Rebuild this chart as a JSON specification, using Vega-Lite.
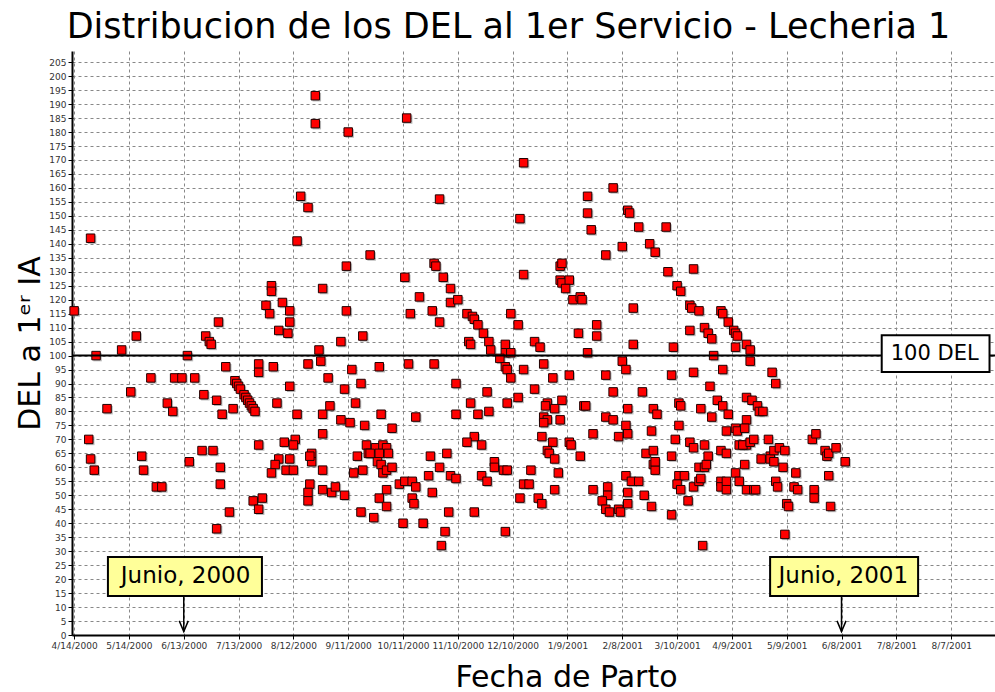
{
"$schema": "https://vega.github.io/schema/vega-lite/v6.json",
"width": 923, "height": 584,
"autosize": {"type": "none"},
"padding": {"left": 72, "top": 51, "right": 0, "bottom": 57},
"background": "white",
"title": {"text": "Distribucion de los DEL al 1er Servicio - Lecheria 1", "font": "DejaVu Sans", "fontSize": 35, "fontWeight": "normal", "color": "#000", "anchor": "middle", "frame": "group", "dx": -25, "baseline": "alphabetic", "offset": -22},
"config": {
  "view": {"stroke": null},
  "axis": {"labelFont": "DejaVu Sans", "labelFontSize": 9, "labelColor": "#333", "titleFont": "DejaVu Sans", "titleFontWeight": "normal", "titleColor": "#000", "titleFontSize": 30, "gridColor": "#888", "gridDash": [3, 3], "gridWidth": 1, "gridOpacity": 1, "domainColor": "#000", "domainWidth": 2, "tickColor": "#000", "tickSize": 4, "labelPadding": 2, "labelOverlap": false},
  "axisY": {"tickCount": 42}
},
"layer": [
 {"data": {"values": [
{"fecha":"2000-04-23","del":142},{"fecha":"2000-04-14","del":116},{"fecha":"2000-05-18","del":107},{"fecha":"2000-05-10","del":102},{"fecha":"2000-04-26","del":100},{"fecha":"2000-06-15","del":100},{"fecha":"2000-05-26","del":92},{"fecha":"2000-06-08","del":92},{"fecha":"2000-06-12","del":92},{"fecha":"2000-06-19","del":92},{"fecha":"2000-05-15","del":87},{"fecha":"2000-06-24","del":86},{"fecha":"2000-06-04","del":83},{"fecha":"2000-06-07","del":80},{"fecha":"2000-05-02","del":81},{"fecha":"2000-04-22","del":70},{"fecha":"2000-04-23","del":63},{"fecha":"2000-04-25","del":59},{"fecha":"2000-05-21","del":64},{"fecha":"2000-05-22","del":59},{"fecha":"2000-05-29","del":53},{"fecha":"2000-06-01","del":53},{"fecha":"2000-06-23","del":66},{"fecha":"2000-06-16","del":62},
{"fecha":"2000-06-25","del":107},{"fecha":"2000-06-27","del":105},{"fecha":"2000-06-28","del":104},{"fecha":"2000-07-02","del":112},{"fecha":"2000-07-01","del":84},{"fecha":"2000-07-04","del":79},{"fecha":"2000-07-06","del":96},{"fecha":"2000-07-10","del":81},{"fecha":"2000-07-11","del":91},{"fecha":"2000-07-12","del":90},{"fecha":"2000-07-13","del":89},{"fecha":"2000-07-14","del":88},{"fecha":"2000-07-16","del":86},{"fecha":"2000-07-17","del":85},{"fecha":"2000-07-18","del":84},{"fecha":"2000-07-19","del":83},{"fecha":"2000-07-20","del":82},{"fecha":"2000-07-21","del":81},{"fecha":"2000-07-22","del":80},{"fecha":"2000-07-24","del":97},{"fecha":"2000-07-24","del":94},{"fecha":"2000-07-24","del":68},{"fecha":"2000-06-29","del":66},{"fecha":"2000-07-03","del":60},{"fecha":"2000-07-03","del":54},{"fecha":"2000-07-01","del":38},{"fecha":"2000-07-08","del":44},{"fecha":"2000-07-21","del":48},{"fecha":"2000-07-24","del":45},{"fecha":"2000-07-26","del":49},
{"fecha":"2000-08-01","del":96},{"fecha":"2000-08-03","del":83},{"fecha":"2000-08-10","del":89},{"fecha":"2000-08-14","del":79},{"fecha":"2000-08-07","del":69},{"fecha":"2000-08-13","del":70},{"fecha":"2000-08-12","del":68},{"fecha":"2000-08-04","del":63},{"fecha":"2000-08-02","del":61},{"fecha":"2000-07-31","del":58},{"fecha":"2000-08-10","del":63},{"fecha":"2000-08-08","del":59},{"fecha":"2000-08-12","del":59},{"fecha":"2000-08-20","del":97},{"fecha":"2000-08-26","del":102},{"fecha":"2000-08-27","del":98},{"fecha":"2000-08-28","del":79},{"fecha":"2000-08-28","del":72},{"fecha":"2000-08-31","del":92},{"fecha":"2000-09-01","del":82},{"fecha":"2000-08-22","del":65},{"fecha":"2000-08-22","del":62},{"fecha":"2000-08-21","del":64},{"fecha":"2000-08-21","del":54},{"fecha":"2000-08-20","del":51},{"fecha":"2000-08-20","del":48},{"fecha":"2000-08-28","del":59},{"fecha":"2000-08-28","del":52},{"fecha":"2000-09-02","del":51},{"fecha":"2000-09-04","del":53},{"fecha":"2000-09-07","del":77},{"fecha":"2000-09-07","del":105},{"fecha":"2000-09-09","del":88},{"fecha":"2000-09-09","del":50},{"fecha":"2000-09-12","del":76},{"fecha":"2000-09-13","del":95},{"fecha":"2000-09-18","del":90},{"fecha":"2000-09-15","del":83},{"fecha":"2000-09-20","del":75},{"fecha":"2000-09-21","del":68},{"fecha":"2000-09-16","del":64},{"fecha":"2000-09-14","del":58},{"fecha":"2000-09-19","del":59},{"fecha":"2000-09-18","del":44},{"fecha":"2000-09-22","del":65},
{"fecha":"2000-08-24","del":193},{"fecha":"2000-08-24","del":183},{"fecha":"2000-09-11","del":180},{"fecha":"2000-08-16","del":157},{"fecha":"2000-08-20","del":153},{"fecha":"2000-08-14","del":141},{"fecha":"2000-09-23","del":136},{"fecha":"2000-09-10","del":132},{"fecha":"2000-08-28","del":124},{"fecha":"2000-07-31","del":125},{"fecha":"2000-07-31","del":123},{"fecha":"2000-08-06","del":119},{"fecha":"2000-07-28","del":118},{"fecha":"2000-07-30","del":115},{"fecha":"2000-08-10","del":116},{"fecha":"2000-08-10","del":112},{"fecha":"2000-08-04","del":109},{"fecha":"2000-08-09","del":108},{"fecha":"2000-09-10","del":116},{"fecha":"2000-09-19","del":107},
{"fecha":"2000-10-13","del":185},{"fecha":"2000-10-31","del":156},{"fecha":"2000-10-12","del":128},{"fecha":"2000-10-28","del":133},{"fecha":"2000-10-29","del":132},{"fecha":"2000-11-02","del":128},{"fecha":"2000-11-06","del":124},{"fecha":"2000-10-20","del":121},{"fecha":"2000-11-06","del":119},{"fecha":"2000-11-10","del":120},{"fecha":"2000-10-15","del":115},{"fecha":"2000-10-27","del":116},{"fecha":"2000-10-31","del":112},{"fecha":"2000-11-15","del":115},{"fecha":"2000-11-18","del":114},{"fecha":"2000-11-19","del":113},{"fecha":"2000-11-16","del":105},{"fecha":"2000-11-17","del":104},{"fecha":"2000-09-28","del":96},{"fecha":"2000-10-14","del":97},{"fecha":"2000-10-28","del":97},{"fecha":"2000-11-09","del":90},{"fecha":"2000-11-17","del":83},{"fecha":"2000-09-29","del":79},{"fecha":"2000-10-18","del":78},{"fecha":"2000-11-09","del":79},{"fecha":"2000-11-19","del":71},{"fecha":"2000-10-05","del":74},{"fecha":"2000-11-15","del":69},{"fecha":"2000-09-26","del":67},{"fecha":"2000-09-30","del":68},{"fecha":"2000-10-02","del":67},{"fecha":"2000-09-23","del":65},{"fecha":"2000-09-28","del":65},{"fecha":"2000-10-03","del":65},{"fecha":"2000-10-26","del":64},{"fecha":"2000-11-04","del":65},{"fecha":"2000-09-27","del":62},{"fecha":"2000-09-29","del":61},{"fecha":"2000-09-30","del":58},{"fecha":"2000-10-02","del":59},{"fecha":"2000-10-05","del":60},{"fecha":"2000-10-31","del":60},{"fecha":"2000-10-25","del":57},{"fecha":"2000-11-06","del":57},{"fecha":"2000-11-09","del":56},{"fecha":"2000-10-09","del":54},{"fecha":"2000-10-12","del":55},{"fecha":"2000-10-16","del":55},{"fecha":"2000-10-18","del":53},{"fecha":"2000-10-02","del":52},{"fecha":"2000-09-28","del":49},{"fecha":"2000-10-16","del":49},{"fecha":"2000-10-17","del":47},{"fecha":"2000-10-27","del":51},{"fecha":"2000-10-02","del":46},{"fecha":"2000-09-25","del":42},{"fecha":"2000-10-11","del":40},{"fecha":"2000-10-22","del":40},{"fecha":"2000-11-05","del":44},{"fecha":"2000-11-03","del":37},{"fecha":"2000-11-01","del":32},{"fecha":"2000-11-19","del":44},
{"fecha":"2000-12-16","del":169},{"fecha":"2000-12-14","del":149},{"fecha":"2001-01-20","del":157},{"fecha":"2001-01-20","del":151},{"fecha":"2001-01-22","del":145},{"fecha":"2001-01-30","del":136},{"fecha":"2000-12-16","del":129},{"fecha":"2001-01-05","del":132},{"fecha":"2001-01-06","del":133},{"fecha":"2001-01-05","del":127},{"fecha":"2001-01-06","del":126},{"fecha":"2001-01-10","del":127},{"fecha":"2001-01-08","del":124},{"fecha":"2001-01-12","del":120},{"fecha":"2001-01-16","del":121},{"fecha":"2001-01-17","del":120},{"fecha":"2000-11-21","del":111},{"fecha":"2000-12-09","del":115},{"fecha":"2000-12-13","del":111},{"fecha":"2000-11-24","del":108},{"fecha":"2000-11-27","del":105},{"fecha":"2000-11-28","del":102},{"fecha":"2000-12-06","del":104},{"fecha":"2000-12-06","del":101},{"fecha":"2000-12-09","del":101},{"fecha":"2000-12-22","del":105},{"fecha":"2000-12-25","del":103},{"fecha":"2001-01-15","del":108},{"fecha":"2001-01-25","del":111},{"fecha":"2001-01-25","del":107},{"fecha":"2001-01-20","del":101},{"fecha":"2000-12-03","del":99},{"fecha":"2000-12-06","del":96},{"fecha":"2000-12-07","del":95},{"fecha":"2000-12-09","del":92},{"fecha":"2000-12-16","del":95},{"fecha":"2000-12-27","del":97},{"fecha":"2001-01-01","del":92},{"fecha":"2001-01-10","del":93},{"fecha":"2001-01-30","del":93},{"fecha":"2000-11-26","del":87},{"fecha":"2000-12-22","del":88},{"fecha":"2000-12-13","del":85},{"fecha":"2000-12-07","del":83},{"fecha":"2000-12-29","del":83},{"fecha":"2000-12-28","del":82},{"fecha":"2001-01-06","del":84},{"fecha":"2001-01-18","del":82},{"fecha":"2001-01-19","del":82},{"fecha":"2000-11-21","del":79},{"fecha":"2000-11-27","del":80},{"fecha":"2001-01-02","del":81},{"fecha":"2000-12-27","del":78},{"fecha":"2000-12-29","del":77},{"fecha":"2000-12-27","del":76},{"fecha":"2001-01-05","del":77},{"fecha":"2001-01-30","del":78},{"fecha":"2001-01-23","del":72},{"fecha":"2000-11-23","del":68},{"fecha":"2000-12-26","del":71},{"fecha":"2001-01-01","del":69},{"fecha":"2001-01-10","del":69},{"fecha":"2001-01-11","del":68},{"fecha":"2000-12-29","del":66},{"fecha":"2000-12-30","del":65},{"fecha":"2001-01-02","del":63},{"fecha":"2001-01-16","del":64},{"fecha":"2000-11-30","del":62},{"fecha":"2000-11-30","del":60},{"fecha":"2000-12-05","del":59},{"fecha":"2000-12-07","del":59},{"fecha":"2000-12-20","del":59},{"fecha":"2001-01-04","del":58},{"fecha":"2000-11-23","del":57},{"fecha":"2000-11-26","del":55},{"fecha":"2000-12-16","del":54},{"fecha":"2000-12-19","del":54},{"fecha":"2001-01-02","del":52},{"fecha":"2001-01-23","del":52},{"fecha":"2000-12-14","del":49},{"fecha":"2000-12-24","del":49},{"fecha":"2000-12-26","del":47},{"fecha":"2001-01-31","del":53},{"fecha":"2001-01-31","del":50},{"fecha":"2001-01-28","del":48},{"fecha":"2001-01-30","del":45},{"fecha":"2001-02-01","del":44},{"fecha":"2000-12-06","del":37},
{"fecha":"2001-02-03","del":160},{"fecha":"2001-02-11","del":152},{"fecha":"2001-02-12","del":151},{"fecha":"2001-02-17","del":146},{"fecha":"2001-03-04","del":146},{"fecha":"2001-02-08","del":139},{"fecha":"2001-02-23","del":140},{"fecha":"2001-02-26","del":137},{"fecha":"2001-03-05","del":130},{"fecha":"2001-03-19","del":131},{"fecha":"2001-03-10","del":125},{"fecha":"2001-03-12","del":123},{"fecha":"2001-03-17","del":118},{"fecha":"2001-03-18","del":117},{"fecha":"2001-03-22","del":116},{"fecha":"2001-04-03","del":116},{"fecha":"2001-04-04","del":115},{"fecha":"2001-04-07","del":112},{"fecha":"2001-02-14","del":117},{"fecha":"2001-03-25","del":110},{"fecha":"2001-03-27","del":108},{"fecha":"2001-03-29","del":106},{"fecha":"2001-04-10","del":109},{"fecha":"2001-04-11","del":108},{"fecha":"2001-04-12","del":107},{"fecha":"2001-03-17","del":109},{"fecha":"2001-02-14","del":104},{"fecha":"2001-03-08","del":103},{"fecha":"2001-04-11","del":103},{"fecha":"2001-03-30","del":100},{"fecha":"2001-02-08","del":98},{"fecha":"2001-02-10","del":95},{"fecha":"2001-03-07","del":93},{"fecha":"2001-03-19","del":94},{"fecha":"2001-04-04","del":95},{"fecha":"2001-02-03","del":87},{"fecha":"2001-02-19","del":87},{"fecha":"2001-03-28","del":89},{"fecha":"2001-03-11","del":83},{"fecha":"2001-03-12","del":82},{"fecha":"2001-04-01","del":84},{"fecha":"2001-04-04","del":82},{"fecha":"2001-02-11","del":81},{"fecha":"2001-02-25","del":81},{"fecha":"2001-02-27","del":79},{"fecha":"2001-03-23","del":81},{"fecha":"2001-04-07","del":79},{"fecha":"2001-02-03","del":77},{"fecha":"2001-03-29","del":78},{"fecha":"2001-02-10","del":75},{"fecha":"2001-02-11","del":72},{"fecha":"2001-03-11","del":75},{"fecha":"2001-02-06","del":71},{"fecha":"2001-02-24","del":73},{"fecha":"2001-04-06","del":73},{"fecha":"2001-04-11","del":74},{"fecha":"2001-04-12","del":73},{"fecha":"2001-03-09","del":70},{"fecha":"2001-03-17","del":69},{"fecha":"2001-03-19","del":67},{"fecha":"2001-03-25","del":68},{"fecha":"2001-04-13","del":68},{"fecha":"2001-02-21","del":65},{"fecha":"2001-02-25","del":66},{"fecha":"2001-03-07","del":64},{"fecha":"2001-03-27","del":64},{"fecha":"2001-04-03","del":66},{"fecha":"2001-04-06","del":65},{"fecha":"2001-02-25","del":61},{"fecha":"2001-02-26","del":59},{"fecha":"2001-02-26","del":62},{"fecha":"2001-03-22","del":60},{"fecha":"2001-03-25","del":60},{"fecha":"2001-03-26","del":61},{"fecha":"2001-02-10","del":57},{"fecha":"2001-02-13","del":55},{"fecha":"2001-02-17","del":55},{"fecha":"2001-03-11","del":57},{"fecha":"2001-03-14","del":57},{"fecha":"2001-03-10","del":54},{"fecha":"2001-03-12","del":52},{"fecha":"2001-03-19","del":53},{"fecha":"2001-03-22","del":55},{"fecha":"2001-03-23","del":56},{"fecha":"2001-04-03","del":55},{"fecha":"2001-04-03","del":53},{"fecha":"2001-04-06","del":55},{"fecha":"2001-04-06","del":52},{"fecha":"2001-04-11","del":58},{"fecha":"2001-04-13","del":55},{"fecha":"2001-04-16","del":61},{"fecha":"2001-02-06","del":45},{"fecha":"2001-02-07","del":44},{"fecha":"2001-02-11","del":51},{"fecha":"2001-02-11","del":47},{"fecha":"2001-02-20","del":50},{"fecha":"2001-02-24","del":46},{"fecha":"2001-03-07","del":43},{"fecha":"2001-03-16","del":48},{"fecha":"2001-03-24","del":32},
{"fecha":"2001-04-17","del":104},{"fecha":"2001-04-19","del":102},{"fecha":"2001-04-19","del":98},{"fecha":"2001-05-01","del":94},{"fecha":"2001-05-03","del":90},{"fecha":"2001-04-17","del":85},{"fecha":"2001-04-20","del":84},{"fecha":"2001-04-23","del":82},{"fecha":"2001-04-24","del":80},{"fecha":"2001-04-26","del":80},{"fecha":"2001-04-17","del":77},{"fecha":"2001-04-16","del":74},{"fecha":"2001-04-17","del":68},{"fecha":"2001-04-15","del":68},{"fecha":"2001-04-19","del":69},{"fecha":"2001-04-21","del":70},{"fecha":"2001-04-29","del":70},{"fecha":"2001-04-25","del":63},{"fecha":"2001-04-30","del":64},{"fecha":"2001-04-30","del":63},{"fecha":"2001-05-02","del":66},{"fecha":"2001-05-05","del":67},{"fecha":"2001-05-08","del":66},{"fecha":"2001-05-02","del":62},{"fecha":"2001-05-07","del":60},{"fecha":"2001-05-14","del":58},{"fecha":"2001-04-17","del":52},{"fecha":"2001-04-21","del":52},{"fecha":"2001-04-22","del":52},{"fecha":"2001-05-03","del":55},{"fecha":"2001-05-04","del":53},{"fecha":"2001-05-13","del":53},{"fecha":"2001-05-15","del":52},{"fecha":"2001-05-09","del":47},{"fecha":"2001-05-10","del":46},{"fecha":"2001-05-08","del":36},{"fecha":"2001-05-23","del":70},{"fecha":"2001-05-25","del":72},{"fecha":"2001-05-30","del":66},{"fecha":"2001-05-31","del":64},{"fecha":"2001-06-01","del":65},{"fecha":"2001-06-05","del":67},{"fecha":"2001-06-10","del":62},{"fecha":"2001-06-01","del":57},{"fecha":"2001-05-24","del":52},{"fecha":"2001-05-24","del":49},{"fecha":"2001-06-02","del":46}
 ]},
 "encoding": {
  "x": {"field": "fecha", "type": "temporal",
    "scale": {"type": "utc", "domain": [{"year": 2000, "month": 4, "date": 12, "hours": 20, "utc": true}, {"year": 2001, "month": 8, "date": 31, "utc": true}]},
    "axis": {"title": "Fecha de Parto", "titleX": 494, "titleY": 51, "titleAlign": "center", "titleBaseline": "alphabetic", "format": "%-m/%-d/%Y",
      "values": [{"year":2000,"month":4,"date":14,"utc":true},{"year":2000,"month":5,"date":14,"utc":true},{"year":2000,"month":6,"date":13,"utc":true},{"year":2000,"month":7,"date":13,"utc":true},{"year":2000,"month":8,"date":12,"utc":true},{"year":2000,"month":9,"date":11,"utc":true},{"year":2000,"month":10,"date":11,"utc":true},{"year":2000,"month":11,"date":10,"utc":true},{"year":2000,"month":12,"date":10,"utc":true},{"year":2001,"month":1,"date":9,"utc":true},{"year":2001,"month":2,"date":8,"utc":true},{"year":2001,"month":3,"date":10,"utc":true},{"year":2001,"month":4,"date":9,"utc":true},{"year":2001,"month":5,"date":9,"utc":true},{"year":2001,"month":6,"date":8,"utc":true},{"year":2001,"month":7,"date":8,"utc":true},{"year":2001,"month":8,"date":7,"utc":true}]}},
  "y": {"field": "del", "type": "quantitative",
    "scale": {"domain": [0, 209], "nice": false, "zero": true},
    "axis": {"title": "DEL a 1ᵉʳ IA", "titleX": -42, "titleY": 292, "titleAlign": "center", "titleBaseline": "middle", "titleAngle": -90, "tickCount": 42,
      "values": [0,5,10,15,20,25,30,35,40,45,50,55,60,65,70,75,80,85,90,95,100,105,110,115,120,125,130,135,140,145,150,155,160,165,170,175,180,185,190,195,200,205]}}
 },
 "layer": [
  {"mark": {"type": "square", "size": 72, "filled": true, "color": "#808080", "opacity": 0.55, "xOffset": 1.5, "yOffset": 1.5}},
  {"mark": {"type": "square", "size": 72, "filled": true, "fill": "#ff0000", "stroke": "#200000", "strokeWidth": 1, "opacity": 1}}
 ]},
  {"data": {"values": [{}]}, "mark": {"type": "rule", "color": "#000", "strokeWidth": 2},
   "encoding": {"y": {"datum": 100, "type": "quantitative"}}},
  {"data": {"values": [{}]}, "mark": {"type": "rect", "fill": "#ffffff", "stroke": "#000", "strokeWidth": 2},
   "encoding": {"x": {"datum": {"year": 2001, "month": 6, "date": 30, "utc": true}, "type": "temporal"}, "x2": {"datum": {"year": 2001, "month": 8, "date": 28, "utc": true}}, "y": {"datum": 107.3, "type": "quantitative"}, "y2": {"datum": 94.1}}},
  {"data": {"values": [{}]}, "mark": {"type": "text", "text": "100 DEL", "font": "DejaVu Sans", "fontSize": 21, "color": "#000", "align": "center", "baseline": "middle"},
   "encoding": {"x": {"datum": {"year": 2001, "month": 7, "date": 29, "utc": true}, "type": "temporal"}, "y": {"datum": 100.5, "type": "quantitative"}}},
  {"data": {"values": [{}]}, "mark": {"type": "rect", "fill": "#ffff99", "stroke": "#000", "strokeWidth": 2},
   "encoding": {"x": {"datum": {"year": 2000, "month": 5, "date": 2, "hours": 12, "utc": true}, "type": "temporal"}, "x2": {"datum": {"year": 2000, "month": 7, "date": 25, "hours": 19, "utc": true}}, "y": {"datum": 27.9, "type": "quantitative"}, "y2": {"datum": 14.0}}},
  {"data": {"values": [{}]}, "mark": {"type": "text", "text": "Junio, 2000", "font": "DejaVu Sans", "fontSize": 23, "color": "#000", "align": "center", "baseline": "middle"},
   "encoding": {"x": {"datum": {"year": 2000, "month": 6, "date": 14, "utc": true}, "type": "temporal"}, "y": {"datum": 21.2, "type": "quantitative"}}},
  {"data": {"values": [{}]}, "mark": {"type": "rule", "color": "#000", "strokeWidth": 1.5},
   "encoding": {"x": {"datum": {"year": 2000, "month": 6, "date": 13, "utc": true}, "type": "temporal"}, "y": {"datum": 14.0, "type": "quantitative"}, "y2": {"datum": 1.2}}},
  {"data": {"values": [{}]}, "mark": {"type": "point", "shape": "M-0.75,-1.8L0,0L0.75,-1.8", "size": 144, "filled": false, "stroke": "#000", "strokeWidth": 1.5, "opacity": 1},
   "encoding": {"x": {"datum": {"year": 2000, "month": 6, "date": 13, "utc": true}, "type": "temporal"}, "y": {"datum": 1.2, "type": "quantitative"}}},
  {"data": {"values": [{}]}, "mark": {"type": "rect", "fill": "#ffff99", "stroke": "#000", "strokeWidth": 2},
   "encoding": {"x": {"datum": {"year": 2001, "month": 4, "date": 29, "hours": 22, "utc": true}, "type": "temporal"}, "x2": {"datum": {"year": 2001, "month": 7, "date": 19, "hours": 22, "utc": true}}, "y": {"datum": 27.9, "type": "quantitative"}, "y2": {"datum": 14.0}}},
  {"data": {"values": [{}]}, "mark": {"type": "text", "text": "Junio, 2001", "font": "DejaVu Sans", "fontSize": 23, "color": "#000", "align": "center", "baseline": "middle"},
   "encoding": {"x": {"datum": {"year": 2001, "month": 6, "date": 9, "utc": true}, "type": "temporal"}, "y": {"datum": 21.2, "type": "quantitative"}}},
  {"data": {"values": [{}]}, "mark": {"type": "rule", "color": "#000", "strokeWidth": 1.5},
   "encoding": {"x": {"datum": {"year": 2001, "month": 6, "date": 8, "utc": true}, "type": "temporal"}, "y": {"datum": 14.0, "type": "quantitative"}, "y2": {"datum": 1.2}}},
  {"data": {"values": [{}]}, "mark": {"type": "point", "shape": "M-0.75,-1.8L0,0L0.75,-1.8", "size": 144, "filled": false, "stroke": "#000", "strokeWidth": 1.5, "opacity": 1},
   "encoding": {"x": {"datum": {"year": 2001, "month": 6, "date": 8, "utc": true}, "type": "temporal"}, "y": {"datum": 1.2, "type": "quantitative"}}}
]
}
